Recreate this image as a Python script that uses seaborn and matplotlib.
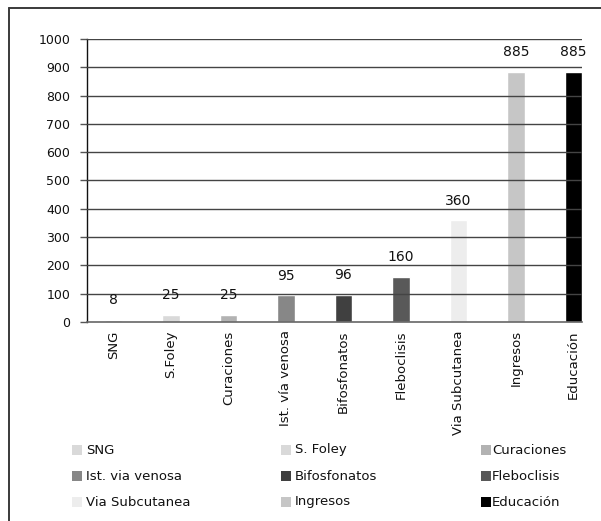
import matplotlib
matplotlib.use("Agg")
import matplotlib.pyplot as plt
from matplotlib.patches import Rectangle
from matplotlib.lines import Line2D
import seaborn as sns
import pandas as pd

# Procedures and counts
categories = ["SNG", "S.Foley", "Curaciones", "Ist. vía venosa", "Bifosfonatos",
              "Fleboclisis", "Via Subcutanea", "Ingresos", "Educación"]
legend_labels = ["SNG", "S. Foley", "Curaciones", "Ist. via venosa", "Bifosfonatos",
                 "Fleboclisis", "Via Subcutanea", "Ingresos", "Educación"]
values = [8, 25, 25, 95, 96, 160, 360, 885, 885]
colors = ["#d9d9d9", "#d9d9d9", "#b2b2b2", "#878787", "#404040",
          "#595959", "#ededed", "#c6c6c6", "#000000"]
yticks = [0, 100, 200, 300, 400, 500, 600, 700, 800, 900, 1000]

df = pd.DataFrame({"cat": categories, "val": values})

sns.set_theme(style="white")
plt.rcParams["font.family"] = ["DejaVu Sans"]

W, H = 601, 521
fig = plt.figure(figsize=(W / 100, H / 100), dpi=100)
ax = fig.add_axes([87 / W, 1 - 322 / H, 495 / W, 283 / H])

sns.barplot(data=df, x="cat", y="val", hue="cat", palette=colors,
            legend=False, width=0.3, saturation=1, ax=ax, zorder=2)

ax.set_xlim(-0.46, 8.15)
ax.set_ylim(0, 1000)
ax.set_yticks(yticks)
ax.set_yticklabels([str(t) for t in yticks], fontsize=9, color="#111111")
ax.set_xlabel("")
ax.set_ylabel("")
ax.set_xticks(range(len(categories)))
ax.set_xticklabels(categories, rotation=90, fontsize=9.5, color="#111111")
ax.tick_params(axis="x", length=0, pad=6)
ax.tick_params(axis="y", length=5, width=1, color="#555555", pad=7, left=True)

# horizontal gridlines drawn over the bars
for t in yticks[1:]:
    ax.axhline(t, color="#444444", lw=1.0, zorder=3)

for s in ["top", "right"]:
    ax.spines[s].set_visible(False)
ax.spines["left"].set_color("#111111")
ax.spines["left"].set_linewidth(1.0)
ax.spines["bottom"].set_color("#666666")
ax.spines["bottom"].set_linewidth(1.2)

# value labels above each bar
for i, v in enumerate(values):
    ax.annotate(str(v), (i, v), xytext=(0, 9), textcoords="offset points",
                ha="center", va="bottom", fontsize=10, color="#111111")

# legend, three columns
col_sq = [72, 281, 481]
col_tx = [86, 295, 492]
row_y = [450, 476, 502]
for k, (lab, c) in enumerate(zip(legend_labels, colors)):
    r, cidx = divmod(k, 3)
    x0, y0 = col_sq[cidx], row_y[r]
    fig.patches.append(Rectangle((x0 / W, 1 - (y0 + 5) / H), 10 / W, 10 / H,
                                 transform=fig.transFigure, facecolor=c,
                                 edgecolor="none"))
    fig.text(col_tx[cidx] / W, 1 - y0 / H, lab, ha="left", va="center",
             fontsize=9.5, color="#111111")

# chart frame
fig.lines.append(Line2D([9 / W, 9 / W], [0, 1 - 8 / H], transform=fig.transFigure,
                        color="#3a3a3a", lw=1.4))
fig.lines.append(Line2D([9 / W, 1], [1 - 8 / H, 1 - 8 / H], transform=fig.transFigure,
                        color="#3a3a3a", lw=1.4))

fig.savefig("out.png", dpi=100)
